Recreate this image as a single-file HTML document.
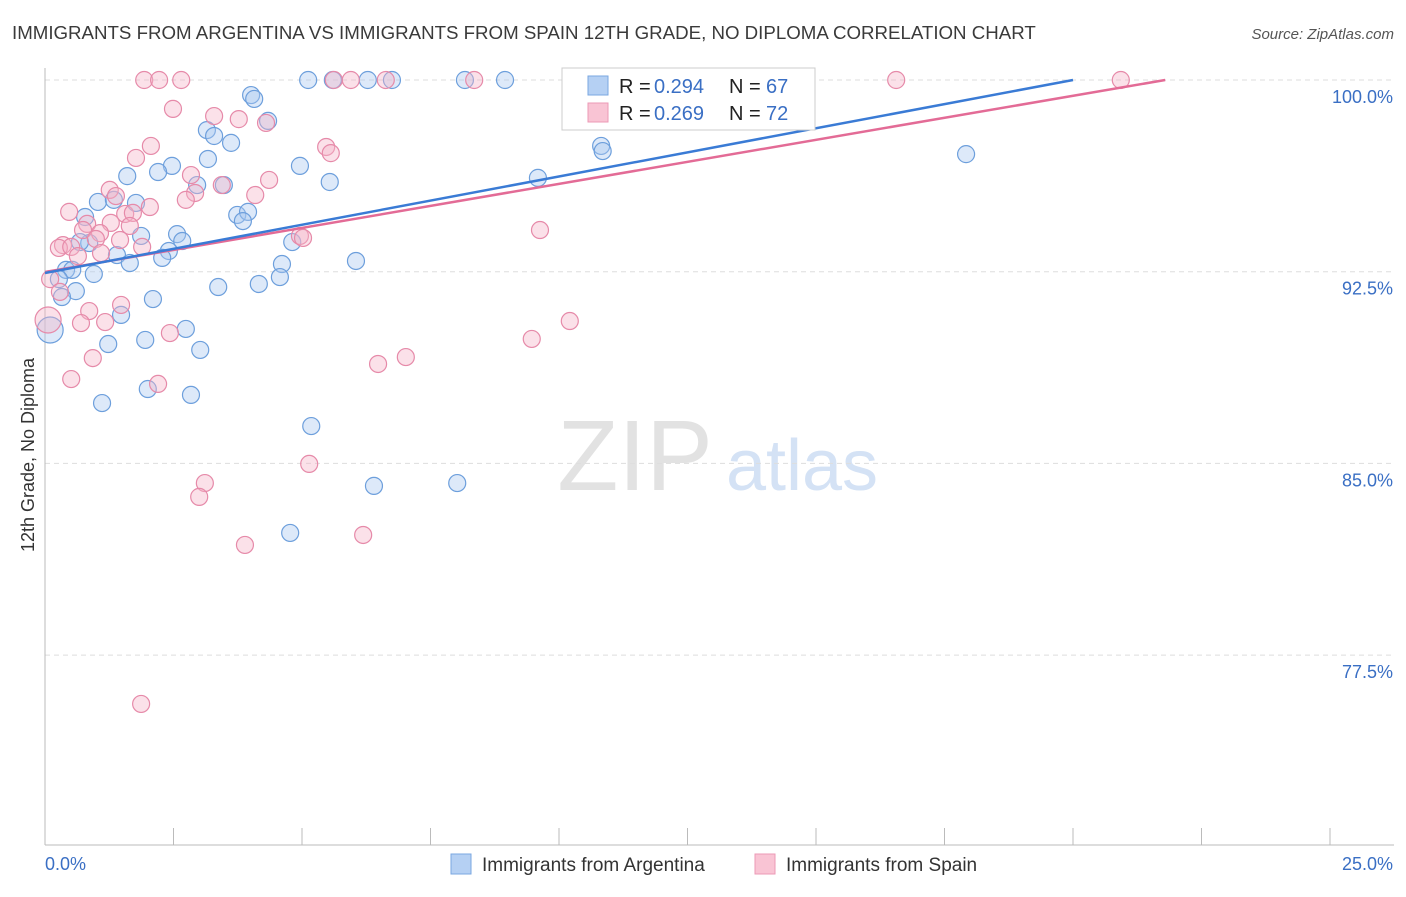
<!DOCTYPE html>
<html><head><meta charset="utf-8"><style>
body{margin:0;background:#fff;font-family:"Liberation Sans",sans-serif;}
svg text{font-family:"Liberation Sans",sans-serif;}
</style></head><body>
<svg id="chart" width="1406" height="892" xmlns="http://www.w3.org/2000/svg">
<text x="12" y="39" font-size="18.7" fill="#3a3a3a">IMMIGRANTS FROM ARGENTINA VS IMMIGRANTS FROM SPAIN 12TH GRADE, NO DIPLOMA CORRELATION CHART</text>
<text x="1394" y="39" font-size="15" fill="#555" text-anchor="end" font-style="italic">Source: ZipAtlas.com</text>
<text transform="translate(34,455) rotate(-90)" font-size="18" fill="#333" text-anchor="middle">12th Grade, No Diploma</text>
<g>
<text x="635" y="490" font-size="100" fill="#e2e2e2" text-anchor="middle" font-family="Liberation Serif">ZIP</text>
<text x="802" y="490" font-size="72" fill="#d4e2f5" text-anchor="middle">atlas</text>
</g>
<g id="grid"></g><g id="axes"></g><g id="pts"></g><g id="lines"></g>
<g>
<rect x="562" y="68" width="253" height="62" fill="#fff" stroke="#ccc"/>
<rect x="588" y="76" width="20" height="19" fill="#b5d0f3" stroke="#7aa7e0"/>
<text x="619" y="93" font-size="20" fill="#222">R =</text>
<text x="654" y="93" font-size="20" fill="#3a6fc4">0.294</text>
<text x="729" y="93" font-size="20" fill="#222">N =</text>
<text x="766" y="93" font-size="20" fill="#3a6fc4">67</text>
<rect x="588" y="103" width="20" height="19" fill="#f9c4d4" stroke="#ec9ab6"/>
<text x="619" y="120" font-size="20" fill="#222">R =</text>
<text x="654" y="120" font-size="20" fill="#3a6fc4">0.269</text>
<text x="729" y="120" font-size="20" fill="#222">N =</text>
<text x="766" y="120" font-size="20" fill="#3a6fc4">72</text>
</g>
<g>
<rect x="451" y="854" width="20" height="20" fill="#b5d0f3" stroke="#7aa7e0"/>
<text x="482" y="871" font-size="19" fill="#333">Immigrants from Argentina</text>
<rect x="755" y="854" width="20" height="20" fill="#f9c4d4" stroke="#ec9ab6"/>
<text x="786" y="871" font-size="19" fill="#333">Immigrants from Spain</text>
</g>
</svg>
<script>
const xTicks=[0,2.5,5,7.5,10,12.5,15,17.5,20,22.5,25];
const yTicks=[100,92.5,85,77.5];
const yTickLabels=["100.0%","92.5%","85.0%","77.5%"];
const blueX=[5.12,5.60,6.28,6.75,8.17,8.95,4.01,4.07,4.34,3.15,3.29,3.62,10.82,10.85,17.92,3.17,2.47,2.20,4.96,1.60,9.59,5.54,2.96,3.48,1.03,1.34,1.77,0.78,3.74,3.95,3.85,1.87,2.57,2.67,0.86,0.68,4.81,2.41,2.28,1.40,1.65,6.05,4.61,0.41,0.53,0.95,0.27,4.57,4.16,3.37,0.60,0.33,2.10,1.48,2.74,0.10,1.95,1.23,3.02,2.00,2.84,1.11,5.18,6.40,8.02,4.77];
const blueY=[100,100,100,100,100,100,99.41,99.26,98.40,98.04,97.81,97.54,97.42,97.22,97.10,96.91,96.64,96.40,96.64,96.24,96.17,96.01,95.89,95.89,95.23,95.31,95.19,94.64,94.72,94.84,94.48,93.90,93.97,93.70,93.62,93.66,93.66,93.31,93.04,93.15,92.84,92.92,92.80,92.57,92.57,92.41,92.21,92.29,92.02,91.90,91.74,91.51,91.43,90.81,90.26,90.22,89.83,89.67,89.44,87.91,87.68,87.36,86.46,84.12,84.23,82.28];
const blueBig=[55];
const pinkX=[1.93,2.22,2.65,5.62,5.95,6.63,8.35,16.56,20.93,2.49,3.29,3.77,4.30,2.06,5.47,5.56,1.77,2.84,4.36,1.26,1.38,3.44,2.92,4.09,2.74,2.04,0.47,1.56,1.71,1.28,1.65,0.82,0.74,1.07,0.99,1.46,4.96,5.02,0.35,0.27,0.51,1.89,1.09,9.63,0.64,0.10,0.29,0.86,1.48,0.70,1.17,0.06,10.21,2.43,0.93,9.47,6.48,7.02,0.51,2.20,5.14,3.11,3.00,3.89,6.19,1.87];
const pinkY=[100,100,100,100,100,100,100,100,100,98.87,98.59,98.47,98.32,97.42,97.38,97.14,96.95,96.28,96.09,95.70,95.46,95.89,95.58,95.50,95.31,95.03,94.84,94.76,94.80,94.41,94.29,94.37,94.13,94.01,93.78,93.74,93.90,93.82,93.54,93.43,93.47,93.47,93.23,94.13,93.11,92.21,91.71,90.96,91.20,90.49,90.53,90.61,90.57,90.10,89.12,89.87,88.89,89.16,88.30,88.11,84.98,84.23,83.69,81.81,82.20,75.59];
const pinkBig=[51];
const trendIntercepts=[92.45,92.49];
const trendSlopes=[0.3775,0.3446];
const NS="http://www.w3.org/2000/svg";
const X0=45,X1=1330,YT=80,YB=845;
const sx=v=>X0+(v-0)/25*(X1-X0);
const sy=v=>YT+(100-v)/7.5*191.7;
function mk(tag,attrs,parent){const e=document.createElementNS(NS,tag);for(const k in attrs)e.setAttribute(k,attrs[k]);parent.appendChild(e);return e;}
const grid=document.getElementById('grid'),axes=document.getElementById('axes'),pts=document.getElementById('pts'),lines=document.getElementById('lines');
yTicks.forEach((t,i)=>{
 const l=mk('line',{x1:X0,x2:1394,y1:sy(t),y2:sy(t),stroke:'#ddd','stroke-dasharray':'5,4'},grid);
 
 
 const tx=mk('text',{x:1393,y:sy(t)+23,'font-size':18,fill:'#3a6fc4','text-anchor':'end'},grid);
 tx.textContent=yTickLabels[i];
 
 
});
let a=mk('line',{x1:X0,x2:X0,y1:68,y2:YB,stroke:'#bbb'},axes);


a=mk('line',{x1:X0,x2:1394,y1:YB,y2:YB,stroke:'#bbb'},axes);


xTicks.forEach(t=>{
 const l=mk('line',{x1:sx(t),x2:sx(t),y1:828,y2:YB,stroke:'#bbb'},axes);
 
 
});
let t0=mk('text',{x:45,y:870,'font-size':18,fill:'#3a6fc4'},axes);t0.textContent='0.0%';


let t1=mk('text',{x:1393,y:870,'font-size':18,fill:'#3a6fc4','text-anchor':'end'},axes);t1.textContent='25.0%';


function series(xs,ys,big,fill,stroke,name){
 xs.forEach((x,i)=>{
  const r=big.includes(i)?13:8.5;
  const c=mk('circle',{cx:sx(x),cy:sy(ys[i]),r:r,fill:fill,'fill-opacity':0.4,stroke:stroke,'stroke-width':1.2},pts);
  
  
 });
}
series(blueX,blueY,blueBig,'#a9c7f0','#6d9fdc','argentina-point');
series(pinkX,pinkY,pinkBig,'#f6b3c8','#e68aa9','spain-point');
const colors=['#3a7bd5','#e36b96'],names=['argentina-trendline','spain-trendline'];
[1,0].forEach(i=>{
 const xe=(100-trendIntercepts[i])/trendSlopes[i];
 const l=mk('line',{x1:sx(0),y1:sy(trendIntercepts[i]),x2:sx(xe),y2:sy(100),stroke:colors[i],'stroke-width':2.5},lines);
 
 
});
</script>
</body></html>
